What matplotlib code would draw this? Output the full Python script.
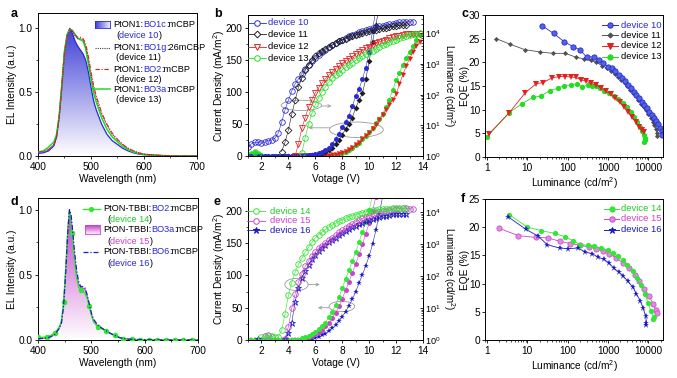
import numpy as np
import matplotlib
matplotlib.use("Agg")
import matplotlib.pyplot as plt
from matplotlib.patches import Ellipse, Polygon
from matplotlib.colors import LinearSegmentedColormap
from matplotlib.lines import Line2D
from matplotlib.ticker import (LogLocator, NullFormatter,
                               FixedLocator, FixedFormatter, MultipleLocator,
                               FormatStrFormatter)

plt.rcParams['font.family'] = ['Liberation Sans', 'DejaVu Sans']
plt.rcParams['mathtext.fontset'] = 'custom'
plt.rcParams['mathtext.rm'] = 'Liberation Sans'
plt.rcParams['mathtext.it'] = 'Liberation Sans:italic'
plt.rcParams['font.size'] = 7.3
plt.rcParams['axes.linewidth'] = 0.7
for ax_ in ('xtick', 'ytick'):
    plt.rcParams[ax_ + '.major.size'] = 2.5
    plt.rcParams[ax_ + '.minor.size'] = 1.4
    plt.rcParams[ax_ + '.major.width'] = 0.6
    plt.rcParams[ax_ + '.minor.width'] = 0.5
    plt.rcParams[ax_ + '.major.pad'] = 1.5
    plt.rcParams[ax_ + '.direction'] = 'out'

# ---------------- data: panel a (EL spectra) ----------------
wl_a = [400, 410, 420, 430, 435, 440, 445, 450, 455, 460, 465, 470, 475, 480, 485, 490,
        495, 500, 505, 510, 520, 530, 540, 550, 560, 570, 580, 590, 600, 620, 640, 660, 680, 700]
el10 = [0.02, 0.025, 0.04, 0.08, 0.15, 0.31, 0.56, 0.82, 0.95, 1.0, 0.96, 0.90, 0.86, 0.83, 0.80, 0.75,
        0.66, 0.54, 0.43, 0.36, 0.25, 0.17, 0.12, 0.09, 0.06, 0.04, 0.025, 0.015, 0.01, 0.005, 0.002, 0.0, 0.0, 0.0]
el11 = [0.03, 0.035, 0.05, 0.09, 0.15, 0.30, 0.54, 0.80, 0.94, 0.99, 0.98, 0.94, 0.92, 0.92, 0.91, 0.86,
        0.76, 0.64, 0.53, 0.45, 0.33, 0.24, 0.17, 0.125, 0.09, 0.06, 0.04, 0.025, 0.015, 0.007, 0.003, 0.0, 0.0, 0.0]
el12 = [0.03, 0.035, 0.05, 0.09, 0.15, 0.30, 0.54, 0.80, 0.94, 0.99, 0.98, 0.95, 0.93, 0.93, 0.92, 0.88,
        0.78, 0.66, 0.55, 0.47, 0.34, 0.25, 0.18, 0.13, 0.09, 0.06, 0.04, 0.025, 0.015, 0.007, 0.003, 0.0, 0.0, 0.0]
el13 = [0.03, 0.04, 0.07, 0.11, 0.17, 0.32, 0.56, 0.82, 0.95, 0.99, 0.985, 0.95, 0.92, 0.91, 0.90, 0.84,
        0.72, 0.60, 0.49, 0.42, 0.30, 0.21, 0.15, 0.11, 0.075, 0.05, 0.03, 0.02, 0.012, 0.006, 0.003, 0.0, 0.0, 0.0]

# ---------------- data: panel d (EL spectra) ----------------
wl_d = [400, 408, 416, 424, 432, 440, 444, 448, 452, 456, 459, 462, 464, 468, 472, 476, 480, 484, 488, 492,
        496, 500, 504, 512, 520, 528, 536, 544, 552, 560, 568, 576, 592, 608, 624, 640, 656, 672, 688, 700]
el14 = [0.02, 0.02, 0.025, 0.035, 0.055, 0.10, 0.15, 0.29, 0.55, 0.85, 0.99, 0.93, 0.82, 0.62, 0.49, 0.41, 0.38, 0.37, 0.36, 0.32,
        0.26, 0.19, 0.14, 0.10, 0.085, 0.07, 0.05, 0.035, 0.02, 0.01, 0.007, 0.005, 0.003, 0.002, 0.001, 0.0, 0.0, 0.0, 0.0, 0.0]
el15 = [0.01, 0.012, 0.015, 0.025, 0.045, 0.09, 0.14, 0.28, 0.55, 0.86, 1.0, 0.94, 0.85, 0.66, 0.52, 0.43, 0.40, 0.40, 0.39, 0.34,
        0.27, 0.20, 0.15, 0.11, 0.09, 0.07, 0.05, 0.035, 0.02, 0.012, 0.008, 0.005, 0.003, 0.002, 0.001, 0.0, 0.0, 0.0, 0.0, 0.0]
el16 = [0.01, 0.012, 0.015, 0.025, 0.045, 0.09, 0.13, 0.26, 0.52, 0.84, 1.0, 0.96, 0.88, 0.70, 0.55, 0.45, 0.41, 0.41, 0.40, 0.35,
        0.28, 0.21, 0.16, 0.115, 0.09, 0.07, 0.05, 0.035, 0.02, 0.012, 0.008, 0.005, 0.003, 0.002, 0.001, 0.0, 0.0, 0.0, 0.0, 0.0]
marker_wl14 = [400, 416, 432, 448, 464, 480, 496, 512, 528, 544, 560, 576, 592, 608, 624, 640, 656, 672, 688]

# ---------------- voltage sweep (b, e) ----------------
V_b = [1.0, 1.25, 1.5, 1.75, 2.0, 2.25, 2.5, 2.75, 3.0, 3.25, 3.5, 3.75, 4.0, 4.25, 4.5, 4.75,
       5.0, 5.25, 5.5, 5.75, 6.0, 6.25, 6.5, 6.75, 7.0, 7.25, 7.5, 7.75, 8.0, 8.25, 8.5, 8.75,
       9.0, 9.25, 9.5, 9.75, 10.0, 10.25, 10.5, 10.75, 11.0, 11.25, 11.5, 11.75, 12.0, 12.25,
       12.5, 12.75, 13.0, 13.25, 13.5, 13.75]

# panel b luminance (cd/m2), start voltages
L10_start = 1.0
L10 = [2.0, 2.5, 2.8, 2.8, 2.6, 2.8, 3.2, 3.3, 3.8, 5.6, 12.6, 32, 66, 132, 224, 331, 490, 690, 930, 1230,
       1580, 2000, 2400, 2880, 3470, 4070, 4790, 5500, 6310, 7080, 7940, 8910, 9770, 10700, 11700, 12600,
       13800, 14800, 15800, 17000, 17800, 19100, 20000, 20900, 21900, 22900, 23400, 24000, 24000, 23400]
L11_start = 3.5
L11 = [1.4, 2.8, 7.1, 23, 66, 174, 363, 617, 933, 1350, 1820, 2240, 2690, 3160, 3720, 4270, 4900, 5500,
       6170, 6760, 7410, 8130, 8910, 9550, 10200, 11000, 11700, 12600, 13200, 14100, 14800, 15500, 16200,
       17000, 17800, 18200, 18600, 18600]
L12_start = 4.5
L12 = [1.0, 2.5, 7.9, 18, 40, 69, 117, 170, 245, 331, 437, 550, 692, 851, 1050, 1260, 1510, 1780, 2090,
       2450, 2820, 3240, 3720, 4170, 4680, 5250, 5750, 6310, 6920, 7410, 7940, 8510, 8910, 9330, 9550,
       9770, 9770, 9550]
L13_start = 5.0
L13 = [1.26, 4.0, 11.2, 25, 48, 81, 126, 182, 257, 339, 427, 525, 646, 776, 933, 1120, 1320, 1550, 1820,
       2090, 2400, 2750, 3160, 3630, 4070, 4570, 5130, 5750, 6310, 6920, 7590, 8320, 8910, 9330, 9770, 10000]
L13_low_V = [1.25, 1.5, 1.75]
L13_low = [1.2, 1.35, 1.2]

# panel b current density (mA/m2)
J10_start = 1.0
J10 = [0, 0, 0, 0, 0, 0, 0, 0, 0, 0, 0, 0, 0, 0, 0, 0.3, 0.6, 1, 1.5, 2.3, 3.5, 5, 7, 9.5, 13,
       19, 27, 35, 45, 53, 63, 78, 93, 105, 120, 138, 162, 195, 230]
J11_start = 4.0
J11 = [0, 0, 0, 0, 0, 0.3, 0.6, 1, 1.8, 3, 4.5, 6.5, 9, 13, 18, 25, 33, 42, 50, 60, 75, 87, 98, 120,
       148, 178, 205, 232]
J12_start = 4.5
J12 = [0, 0, 0, 0, 0, 0, 0, 0, 0, 0.3, 0.6, 1, 2, 3, 5, 7, 10, 13, 17, 21, 26, 31, 36, 42, 49, 56,
       64, 72, 80, 88, 96, 112, 127, 140, 152, 162, 172, 178]
J13_start = 1.0
J13 = [1, 3, 6, 3, 1, 0, 0, 0, 0, 0, 0, 0, 0, 0, 0, 0, 0, 0, 0, 0, 0, 0, 0, 0, 0.6, 1, 2, 3, 5,
       7, 10, 13, 17, 21, 26, 31, 37, 44, 51, 58, 66, 76, 88, 103, 118, 130, 142, 153, 163, 172, 181, 189]

# panel e luminance
L14_start = 3.25
L14 = [1.26, 2.0, 6.6, 25, 63, 132, 234, 372, 562, 813, 1150, 1580, 2000, 2400, 2950, 3470, 3980,
       4570, 5250, 5890, 6610, 7240, 7940, 8510, 9120, 9770, 10500, 11000, 11500, 12000, 12300, 12600,
       12900, 13200, 13500, 13500, 13500, 13500, 13200]
L14_low_V = [2.0, 2.25, 2.5, 2.75, 3.0]
L14_low = [1.2, 1.25, 1.3, 1.3, 1.2]
L15_start = 3.75
L15 = [1.1, 2.6, 10, 28, 66, 120, 204, 295, 417, 575, 741, 912, 1120, 1350, 1620, 1910, 2340, 2750,
       3240, 3800, 4470, 5130, 5750, 6460, 7240, 7940, 8710, 9330, 10000, 10700, 11200, 11700, 12300,
       12900, 13200, 13500, 13500, 13200, 12600]
L15_low_V = [2.25, 2.5, 2.75]
L15_low = [1.3, 1.4, 1.2]
L16_start = 3.75
L16 = [1.1, 1.6, 3.5, 16, 42, 85, 148, 229, 339, 468, 603, 759, 955, 1150, 1380, 1620, 1950, 2240,
       2630, 3020, 3390, 3800, 4270, 4790, 5250, 5750, 6170, 6610, 7080, 7590, 7940, 8320, 8710, 8910,
       9120, 9120, 8910]
L16_low_V = [1.75]
L16_low = [1.05]

# panel e current density
J14_start = 1.0
J14 = [0, 0, 0, 0, 0, 0, 0, 0, 0, 0, 0, 0, 0, 0, 0, 0, 2.5, 4, 6, 9, 13, 17, 21, 27, 35, 43, 54,
       66, 80, 95, 108, 123, 136, 152, 168, 183, 201, 225]
J15_start = 1.0
J15 = [0, 0, 0, 0, 0, 0, 0, 0, 0, 0, 0, 0, 0, 0, 0, 0, 0, 2, 4, 6, 9, 12, 16, 21, 27, 34, 42, 52,
       64, 77, 90, 104, 118, 133, 148, 165, 182, 200, 222]
J16_start = 1.0
J16 = [0, 0, 0, 0, 0, 0, 0, 0, 0, 0, 0, 0, 0, 0, 0, 0, 0, 0, 0, 2, 3, 5, 7, 10, 14, 18, 23, 29,
       36, 44, 53, 63, 75, 88, 101, 115, 130, 148, 170, 195, 222]

# ---------------- data: panel c (EQE vs luminance) ----------------
c10_L = [23.4, 44.7, 83, 138, 204, 295, 457, 589, 759, 977, 1230, 1510, 1820, 2190, 2630, 3090, 3630,
         4270, 5010, 5750, 6760, 7760, 9120, 10500, 12000, 13800, 15500, 17400, 19500, 21500, 22400, 21900]
c10_E = [27.7, 26.1, 24.3, 23.3, 22.6, 21.1, 21.2, 20.4, 19.9, 19.1, 18.7, 18.1, 17.4, 16.7, 16.0, 15.2,
         14.5, 13.8, 13.1, 12.4, 11.7, 11.0, 10.3, 9.6, 8.9, 8.2, 7.6, 7.0, 6.2, 5.5, 4.9, 4.6]
c11_L = [1.7, 3.8, 8.5, 20, 43, 87, 158, 257, 380, 501, 724, 955, 1200, 1480, 1780, 2140, 2570, 3020,
         3550, 4170, 4900, 5620, 6610, 7590, 8710, 10000, 11500, 12900, 14100, 15500, 16600, 16000]
c11_E = [25.0, 23.8, 22.7, 22.2, 21.9, 21.9, 21.1, 20.7, 20.4, 20.0, 19.3, 18.7, 18.2, 17.6, 17.0, 16.3,
         15.6, 14.9, 14.2, 13.5, 12.8, 12.1, 11.3, 10.6, 9.9, 9.1, 8.3, 7.5, 6.7, 5.9, 5.1, 4.5]
c12_L = [1.1, 3.6, 8.9, 16.6, 24, 40.7, 61.7, 87, 120, 158, 214, 282, 380, 500, 660, 870, 1150, 1500,
         1950, 2500, 3200, 4000, 4900, 5900, 7000, 7900]
c12_E = [4.8, 9.4, 13.6, 15.5, 15.7, 16.7, 17.0, 17.0, 16.9, 16.8, 16.3, 16.0, 15.6, 15.2, 14.6, 14.0,
         13.3, 12.5, 11.6, 10.6, 9.5, 8.4, 7.3, 6.4, 5.7, 5.3]
c13_L = [1.0, 3.6, 7.4, 13.8, 21.9, 35.5, 56, 83, 120, 170, 224, 309, 398, 501, 630, 800, 1070, 1400,
         1800, 2300, 2900, 3600, 4400, 5300, 6200, 7100, 7800, 8300, 8100, 7800]
c13_E = [4.3, 9.4, 11.3, 12.6, 12.9, 14.0, 14.5, 15.1, 15.2, 15.5, 14.8, 15.2, 15.1, 14.9, 14.5, 14.0,
         13.5, 12.9, 12.2, 11.4, 10.5, 9.5, 8.5, 7.4, 6.4, 5.5, 4.7, 4.0, 3.5, 3.2]

# ---------------- data: panel f ----------------
f14_L = [3.6, 10, 22, 48, 85, 135, 204, 316, 457, 676, 977, 1290, 1740, 2290, 3020, 4070, 5130, 6460,
         8130, 9770, 11500, 13500, 13000]
f14_E = [22.2, 20.0, 19.4, 18.9, 18.3, 17.6, 16.9, 16.8, 16.6, 16.3, 15.9, 15.4, 14.9, 14.1, 13.3, 12.2,
         11.0, 9.7, 8.2, 6.6, 5.1, 4.0, 3.7]
f15_L = [2.0, 6.0, 16, 33, 63, 117, 200, 331, 501, 741, 1070, 1580, 2290, 3310, 4570, 5890, 7760, 10500,
         12900, 15100, 16600]
f15_E = [19.8, 18.5, 18.2, 18.1, 17.5, 17.1, 16.8, 16.5, 16.2, 15.7, 15.2, 14.6, 13.7, 12.7, 11.6, 10.4,
         9.1, 7.8, 6.4, 5.4, 4.7]
f16_L = [3.4, 9.3, 18.6, 31, 63, 100, 178, 275, 407, 562, 776, 1050, 1380, 1820, 2400, 3090, 4070, 5010,
         6310, 7410, 8510, 8910, 8510]
f16_E = [21.8, 19.6, 18.4, 16.9, 16.3, 16.2, 16.3, 15.6, 15.3, 14.7, 14.3, 13.7, 12.7, 12.1, 11.3, 10.4,
         9.4, 8.2, 6.9, 5.6, 4.2, 3.1, 2.7]

# ---------------- style ----------------
C10 = '#2a2ad2'
C11 = '#1e1e1e'
C11c = '#505050'
C12 = '#e42020'
C13 = '#22dd22'
C14 = '#33e633'
C15 = '#cc44cc'
C16 = '#1c1cc0'
TXT_BLUE = '#2a2ad0'
ELL = '#9a9a9a'

W, H = 677, 378
fig = plt.figure(figsize=(W / 100, H / 100), dpi=100)


def add_ax(x0, y0, x1, y1):
    return fig.add_axes([x0 / W, 1 - y1 / H, (x1 - x0) / W, (y1 - y0) / H])


def vs(start, vals):
    i = V_b.index(start)
    return V_b[i:i + len(vals)]


def fx(x):
    return x / W


def fy(y):
    return 1 - y / H


def gradient_fill(ax, x, y, color, zorder=1):
    verts = [(x[0], 0)] + list(zip(x, y)) + [(x[-1], 0)]
    poly = Polygon(verts, facecolor='none', edgecolor='none')
    ax.add_patch(poly)
    cmap = LinearSegmentedColormap.from_list('g', ['white', color])
    grad = np.linspace(0, 1, 256).reshape(-1, 1)
    im = ax.imshow(grad, extent=[x[0], x[-1], 0, max(y)], origin='lower',
                   aspect='auto', cmap=cmap, zorder=zorder, interpolation='bilinear')
    im.set_clip_path(poly)


def grad_box(x0, y0, x1, y1, color, edge, vertical=False):
    a = add_ax(x0, y0, x1, y1)
    cmap = LinearSegmentedColormap.from_list('g', [color, 'white'])
    if vertical:
        g = np.linspace(0, 0.9, 64).reshape(-1, 1)
    else:
        g = np.linspace(0, 0.9, 64).reshape(1, -1)
    a.imshow(g, aspect='auto', cmap=cmap, vmin=0, vmax=1, interpolation='bilinear')
    a.set_xticks([]); a.set_yticks([])
    for s in a.spines.values():
        s.set_color(edge); s.set_linewidth(0.6)


def rich(ax, x, y, parts, fs=6.6):
    t = fig.text(fx(x), fy(y), parts[0][0], color=parts[0][1], fontsize=fs,
                 va='center', ha='left')
    for s, c in parts[1:]:
        t = ax.annotate(s, xy=(1, 0.5), xycoords=t, va='center', ha='left',
                        color=c, fontsize=fs, annotation_clip=False)


def leg_line(x0, x1, y, color, ls='-', lw=0.7, marker=None, mfc=None, ms=4, mew=0.7):
    fig.add_artist(Line2D([fx(x0), fx(x1)], [fy(y), fy(y)], transform=fig.transFigure,
                          color=color, ls=ls, lw=lw))
    if marker:
        fig.add_artist(Line2D([fx((x0 + x1) / 2)], [fy(y)], transform=fig.transFigure,
                              marker=marker, color=color, mfc=mfc if mfc else color,
                              mec=color, ms=ms, mew=mew, ls='none'))


def panel_label(x, y, s):
    fig.text(fx(x), fy(y), s, fontsize=9, fontweight='bold', va='baseline', ha='left')


def place_ylabel(ax, xpix, x0, x1):
    ax.yaxis.label.set_ha('center')
    ax.yaxis.label.set_va('center')
    ax.yaxis.set_label_coords((xpix - x0) / (x1 - x0), 0.5)


def spec_axes(ax, top, x0, x1):
    ax.set_xlim(400, 700)
    ax.set_ylim(0, top)
    ax.xaxis.set_major_locator(MultipleLocator(100))
    ax.xaxis.set_minor_locator(MultipleLocator(50))
    ax.yaxis.set_major_locator(FixedLocator([0.0, 0.5, 1.0]))
    ax.yaxis.set_major_formatter(FormatStrFormatter('%.1f'))
    ax.yaxis.set_minor_locator(FixedLocator([0.25, 0.75]))
    ax.set_xlabel('Wavelength (nm)', labelpad=2)
    ax.set_ylabel('EL Intensity (a.u.)')
    place_ylabel(ax, 12, x0, x1)


def jv_axes(ax, ax2, ltop, x0, x1):
    ax.set_xlim(1, 14)
    ax.set_ylim(0, 220)
    ax.xaxis.set_major_locator(MultipleLocator(2))
    ax.xaxis.set_minor_locator(MultipleLocator(1))
    ax.yaxis.set_major_locator(MultipleLocator(50))
    ax.yaxis.set_minor_locator(MultipleLocator(25))
    ax.set_xlabel('Votage (V)', labelpad=2)
    ax.set_ylabel('Current Density (mA/m$^2$)')
    place_ylabel(ax, 219, x0, x1)
    ax2.set_yscale('log')
    ax2.set_ylim(1, ltop)
    ax2.yaxis.set_major_locator(FixedLocator([1, 10, 100, 1000, 10000]))
    ax2.yaxis.set_minor_locator(LogLocator(base=10, subs=np.arange(2, 10), numticks=20))
    ax2.yaxis.set_minor_formatter(NullFormatter())
    ax2.tick_params(axis='y', which='both', direction='in')
    ax2.tick_params(axis='y', which='major', labelsize=6.6, pad=1.2)
    ax2.set_ylabel('Luminance (cd/m$^2$)', rotation=270, fontsize=7.0)
    place_ylabel(ax2, 448.5, x0, x1)


def eqe_axes(ax, top, x0, x1):
    ax.set_xscale('log')
    ax.set_xlim(10 ** -0.05, 10 ** 4.36)
    ax.set_ylim(0, top)
    ax.xaxis.set_major_locator(FixedLocator([1, 10, 100, 1000, 10000]))
    ax.xaxis.set_major_formatter(FixedFormatter(['1', '10', '100', '1000', '10000']))
    ax.xaxis.set_minor_locator(LogLocator(base=10, subs=np.arange(2, 10), numticks=20))
    ax.xaxis.set_minor_formatter(NullFormatter())
    ax.yaxis.set_major_locator(MultipleLocator(5))
    ax.tick_params(axis='y', which='major', pad=1)
    ax.set_xlabel('Luminance (cd/m$^2$)', labelpad=2)
    ax.set_ylabel('EQE (%)')
    place_ylabel(ax, 464.5, x0, x1)


# ======================= panel a =======================
axa = add_ax(38, 13, 197, 156)
gradient_fill(axa, wl_a, el10, '#4040d8')
axa.plot(wl_a, el10, color=C10, lw=0.9, zorder=3)
axa.plot(wl_a, el13, color=C13, lw=1.1, zorder=4)
axa.plot(wl_a, el11, color='#444444', lw=0.8, ls=(0, (1, 1)), zorder=5)
axa.plot(wl_a, el12, color=C12, lw=0.8, ls=(0, (4, 1.5, 1, 1.5)), zorder=6)
spec_axes(axa, 1.12, 38, 197)

grad_box(95, 21, 110, 28, '#3a3ad6', C10)
rich(axa, 113, 24.5, [('PtON1:', 'black'), ('BO1c', TXT_BLUE), (':mCBP', 'black')])
rich(axa, 116, 35, [('(', 'black'), ('device 10', TXT_BLUE), (')', 'black')])
leg_line(95, 110, 47.5, '#444444', ls=(0, (1, 1)), lw=0.8)
rich(axa, 113, 47.5, [('PtON1:', 'black'), ('BO1g', TXT_BLUE), (':26mCBP', 'black')])
rich(axa, 116, 58, [('(device 11)', 'black')])
leg_line(95, 110, 69, C12, ls=(0, (4, 1.5, 1, 1.5)), lw=0.8)
rich(axa, 113, 69, [('PtON1:', 'black'), ('BO2', TXT_BLUE), (':mCBP', 'black')])
rich(axa, 116, 79, [('(device 12)', 'black')])
leg_line(93, 110, 89, C13, lw=1.1)
rich(axa, 113, 89, [('PtON1:', 'black'), ('BO3a', TXT_BLUE), (':mCBP', 'black')])
rich(axa, 116, 99, [('(device 13)', 'black')])

# ======================= panel b =======================
axb = add_ax(248, 15, 423, 156)
axb2 = axb.twinx()
ms_f = 3.6
axb.plot(vs(J13_start, J13), J13, marker='o', ms=ms_f, color=C13, lw=0.4, mew=0)
axb.plot(vs(J12_start, J12), J12, marker='v', ms=ms_f, color=C12, lw=0.4, mew=0)
axb.plot(vs(J11_start, J11), J11, marker='D', ms=3.0, color=C11, lw=0.4, mew=0)
axb.plot(vs(J10_start, J10), J10, marker='o', ms=ms_f, color=C10, lw=0.4, mew=0)

ms_o = 4.0
axb2.plot(vs(L10_start, L10), L10, marker='o', ms=ms_o, mfc='none', mec=C10, mew=0.6, color=C10, lw=0.4)
axb2.plot(vs(L11_start, L11), L11, marker='D', ms=3.4, mfc='none', mec=C11, mew=0.6, color=C11, lw=0.4)
axb2.plot(vs(L12_start, L12), L12, marker='v', ms=ms_o, mfc='none', mec=C12, mew=0.6, color=C12, lw=0.4)
axb2.plot(vs(L13_start, L13), L13, marker='o', ms=ms_o, mfc='none', mec=C13, mew=0.6, color=C13, lw=0.4)
axb2.plot(L13_low_V, L13_low, marker='o', ms=ms_o, mfc='none', mec=C13, mew=0.6, color=C13, lw=0.4)
jv_axes(axb, axb2, 10 ** 4.6, 248, 423)

axb.add_patch(Ellipse((4.96, 79), 3.0, 16, fill=False, ec=ELL, lw=0.6))
axb.annotate('', xy=(7.2, 78), xytext=(6.45, 78),
             arrowprops=dict(arrowstyle='->', color=ELL, lw=0.6, shrinkA=0, shrinkB=0, mutation_scale=5))
axb.add_patch(Ellipse((9.05, 41), 4.0, 24, fill=False, ec=ELL, lw=0.6))
axb.annotate('', xy=(5.5, 44), xytext=(7.05, 44),
             arrowprops=dict(arrowstyle='->', color=ELL, lw=0.6, shrinkA=0, shrinkB=0, mutation_scale=5))

leg_line(248, 266, 22.7, C10, lw=0.6, marker='o', mfc='white', ms=4)
fig.text(fx(268), fy(22.7), 'device 10', color=C10, fontsize=6.8, va='center')
leg_line(248, 266, 34.3, C11, lw=0.6, marker='D', mfc='white', ms=3.4)
fig.text(fx(268), fy(34.3), 'device 11', color='black', fontsize=6.8, va='center')
leg_line(248, 266, 46.5, C12, lw=0.6, marker='v', mfc='white', ms=4)
fig.text(fx(268), fy(46.5), 'device 12', color='black', fontsize=6.8, va='center')
leg_line(248, 266, 58.2, C13, lw=0.6, marker='o', mfc='white', ms=4)
fig.text(fx(268), fy(58.2), 'device 13', color='black', fontsize=6.8, va='center')

# ======================= panel c =======================
axc = add_ax(485, 15, 663, 157)
axc.plot(c13_L, c13_E, marker='o', ms=3.8, color=C13, lw=0.6, mew=0)
axc.plot(c12_L, c12_E, marker='v', ms=3.8, color=C12, lw=0.6, mew=0)
axc.plot(c11_L, c11_E, marker='D', ms=2.6, color=C11c, lw=0.6, mew=0)
axc.plot(c10_L, c10_E, marker='o', ms=3.8, color=C10, mfc='#4f63e6', mec=C10, lw=0.6, mew=0.6)
eqe_axes(axc, 30, 485, 663)
leg_line(602, 618, 25, C10, lw=0.7, marker='o', mfc='#4f63e6', ms=3.8)
fig.text(fx(621), fy(25), 'device 10', color=C10, fontsize=6.8, va='center')
leg_line(602, 618, 35, C11c, lw=0.7, marker='D', ms=2.6)
fig.text(fx(621), fy(35), 'device 11', color='black', fontsize=6.8, va='center')
leg_line(602, 618, 46, C12, lw=0.7, marker='v', ms=3.8)
fig.text(fx(621), fy(46), 'device 12', color='black', fontsize=6.8, va='center')
leg_line(602, 618, 56.7, C13, lw=0.7, marker='o', ms=3.8)
fig.text(fx(621), fy(56.7), 'device 13', color='black', fontsize=6.8, va='center')

# ======================= panel d =======================
axd = add_ax(38, 198, 198, 340)
gradient_fill(axd, wl_d, el15, '#c23ec8')
axd.plot(wl_d, el15, color=C15, lw=0.7, zorder=3)
mk14 = [i for i, w in enumerate(wl_d) if w in marker_wl14]
axd.plot(wl_d, el14, color=C14, lw=1.0, marker='o', ms=3.0, markevery=mk14, zorder=4)
axd.plot(wl_d, el16, color=C16, lw=0.9, ls=(0, (4, 1.5, 1, 1.5)), zorder=5)
spec_axes(axd, 1.09, 38, 198)

leg_line(83, 100, 208.7, C14, lw=1.0, marker='o', ms=3.0)
rich(axd, 103, 208.7, [('PtON-TBBI:', 'black'), ('BO2', TXT_BLUE), (':mCBP', 'black')])
rich(axd, 107, 220, [('(', 'black'), ('device 14', '#22cc22'), (')', 'black')])
grad_box(85, 225, 100, 234, '#c23ec8', C15, vertical=True)
rich(axd, 103, 229.5, [('PtON-TBBI:', 'black'), ('BO3a', TXT_BLUE), (':mCBP', 'black')])
rich(axd, 107, 241, [('(', 'black'), ('device 15', C15), (')', 'black')])
leg_line(83, 100, 252, C16, lw=0.9, ls=(0, (4, 1.5, 1, 1.5)))
rich(axd, 103, 252, [('PtON-TBBI:', 'black'), ('BO6', TXT_BLUE), (':mCBP', 'black')])
rich(axd, 107, 263, [('(', 'black'), ('device 16', TXT_BLUE), (')', 'black')])

# ======================= panel e =======================
axe = add_ax(248, 198, 423, 340)
axe2 = axe.twinx()
axe.plot(vs(J16_start, J16), J16, marker='*', ms=4.2, color=C16, lw=0.4, mew=0)
axe.plot(vs(J15_start, J15), J15, marker='o', ms=ms_f, color=C15, lw=0.4, mew=0)
axe.plot(vs(J14_start, J14), J14, marker='o', ms=ms_f, color=C14, lw=0.4, mew=0)

axe2.plot(vs(L16_start, L16), L16, marker='*', ms=4.6, mfc='none', mec=C16, mew=0.6, color=C16, lw=0.4)
axe2.plot(L16_low_V, L16_low, marker='*', ms=4.6, mfc='none', mec=C16, mew=0.6, color=C16, lw=0.4)
axe2.plot(vs(L15_start, L15), L15, marker='o', ms=ms_o, mfc='none', mec=C15, mew=0.6, color=C15, lw=0.4)
axe2.plot(L15_low_V, L15_low, marker='o', ms=ms_o, mfc='none', mec=C15, mew=0.6, color=C15, lw=0.4)
axe2.plot(vs(L14_start, L14), L14, marker='o', ms=ms_o, mfc='none', mec=C14, mew=0.6, color=C14, lw=0.4)
axe2.plot(L14_low_V, L14_low, marker='o', ms=ms_o, mfc='none', mec=C14, mew=0.6, color=C14, lw=0.4)
jv_axes(axe, axe2, 10 ** 4.45, 248, 423)

axe.add_patch(Ellipse((4.6, 86), 1.73, 19, fill=False, ec=ELL, lw=0.6))
axe.annotate('', xy=(6.33, 86), xytext=(5.46, 86),
             arrowprops=dict(arrowstyle='->', color=ELL, lw=0.6, shrinkA=0, shrinkB=0, mutation_scale=5))
axe.add_patch(Ellipse((7.97, 52), 1.9, 16, fill=False, ec=ELL, lw=0.6))
axe.annotate('', xy=(6.2, 50), xytext=(7.02, 50),
             arrowprops=dict(arrowstyle='->', color=ELL, lw=0.6, shrinkA=0, shrinkB=0, mutation_scale=5))

leg_line(247, 265, 211.3, C14, lw=0.6, marker='o', mfc='white', ms=4)
fig.text(fx(270), fy(211.3), 'device 14', color='#22cc22', fontsize=6.8, va='center')
leg_line(247, 265, 220.5, C15, lw=0.6, marker='o', mfc='white', ms=4)
fig.text(fx(270), fy(220.5), 'device 15', color=C15, fontsize=6.8, va='center')
leg_line(247, 265, 230.3, C16, lw=0.6, marker='*', ms=4.6)
fig.text(fx(270), fy(230.3), 'device 16', color=C16, fontsize=6.8, va='center')

# ======================= panel f =======================
axf = add_ax(485, 199, 663, 340)
axf.plot(f15_L, f15_E, marker='o', ms=3.8, color=C15, mfc='#e08ae0', mec=C15, lw=0.6, mew=0.5)
axf.plot(f14_L, f14_E, marker='o', ms=3.8, color=C14, lw=0.6, mew=0)
axf.plot(f16_L, f16_E, marker='*', ms=4.6, color=C16, lw=0.6, mew=0)
eqe_axes(axf, 25, 485, 663)
leg_line(604, 619, 208.7, C14, lw=0.7, marker='o', ms=3.8)
fig.text(fx(621), fy(208.7), 'device 14', color='#22cc22', fontsize=6.8, va='center')
leg_line(604, 619, 218.7, C15, lw=0.7, marker='o', mfc='#e08ae0', ms=3.8)
fig.text(fx(621), fy(218.7), 'device 15', color=C15, fontsize=6.8, va='center')
leg_line(604, 619, 229.7, C16, lw=0.7, marker='*', ms=4.6)
fig.text(fx(621), fy(229.7), 'device 16', color=C16, fontsize=6.8, va='center')

panel_label(11, 17, 'a')
panel_label(214, 17, 'b')
panel_label(461, 17, 'c')
panel_label(11, 205, 'd')
panel_label(214, 205, 'e')
panel_label(461, 202, 'f')

fig.savefig('out.png', dpi=100)
